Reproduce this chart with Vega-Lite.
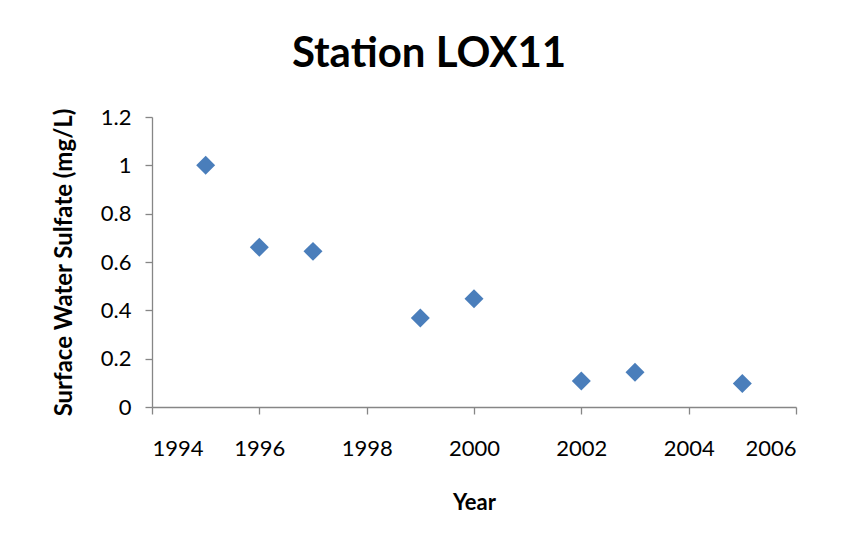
{
  "$schema": "https://vega.github.io/schema/vega-lite/v6.json",
  "width": 644,
  "height": 290,
  "autosize": {"type": "none"},
  "padding": {"left": 152, "top": 117, "right": 50, "bottom": 145},
  "background": "white",
  "title": {
    "text": "Station LOX11",
    "font": "Lato",
    "fontSize": 42,
    "fontWeight": "bold",
    "color": "black",
    "anchor": "middle",
    "dx": -45,
    "baseline": "alphabetic",
    "offset": -3
  },
  "data": {
    "values": [
      {"year": 1995, "sulfate": 1.0},
      {"year": 1996, "sulfate": 0.661},
      {"year": 1997, "sulfate": 0.644},
      {"year": 1999, "sulfate": 0.368},
      {"year": 2000, "sulfate": 0.448},
      {"year": 2002, "sulfate": 0.108},
      {"year": 2003, "sulfate": 0.144},
      {"year": 2005, "sulfate": 0.097}
    ]
  },
  "mark": {"type": "point", "shape": "diamond", "filled": true, "size": 360, "color": "#4A7EBB", "opacity": 1},
  "encoding": {
    "x": {
      "field": "year",
      "type": "quantitative",
      "title": "Year",
      "scale": {"domain": [1994, 2006], "nice": false, "zero": false},
      "axis": {"values": [1994, 1996, 1998, 2000, 2002, 2004, 2006], "format": "d", "labelPadding": 24, "titlePadding": 33}
    },
    "y": {
      "field": "sulfate",
      "type": "quantitative",
      "title": "Surface Water Sulfate (mg/L)",
      "scale": {"domain": [0, 1.2], "nice": false},
      "axis": {"values": [0, 0.2, 0.4, 0.6, 0.8, 1, 1.2], "format": ".1~f", "labelPadding": 14, "titlePadding": 24, "titleFontSize": 24}
    }
  },
  "config": {
    "view": {"stroke": null},
    "axis": {
      "grid": false,
      "domainColor": "#868686",
      "tickColor": "#868686",
      "tickSize": 7,
      "domainWidth": 1.3,
      "tickWidth": 1.3,
      "labelFont": "Lato",
      "labelFontSize": 22,
      "labelColor": "black",
      "titleFont": "Lato",
      "titleFontSize": 22,
      "titleFontWeight": "bold",
      "titleColor": "black"
    }
  }
}
